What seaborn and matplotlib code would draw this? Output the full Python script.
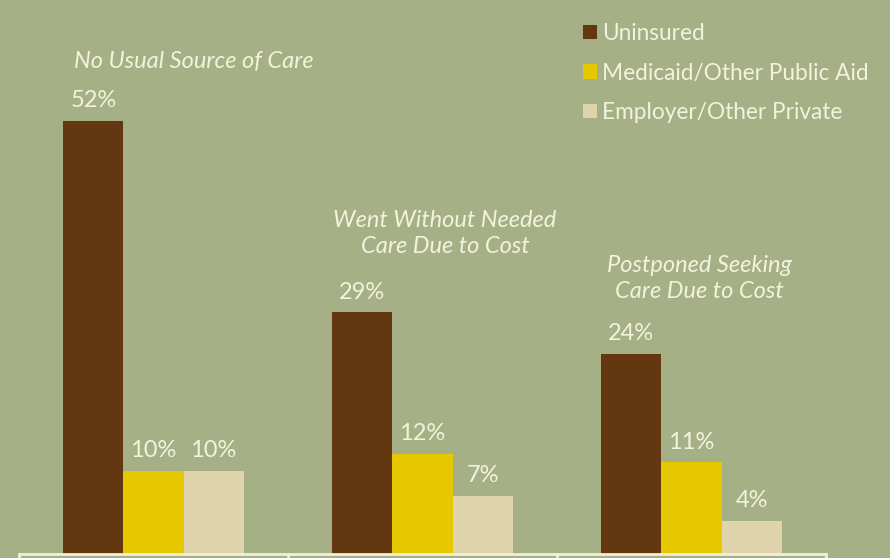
import pandas as pd
import seaborn as sns
import matplotlib.pyplot as plt

# data
measures = ["No Usual Source of Care",
            "Went Without Needed\nCare Due to Cost",
            "Postponed Seeking\nCare Due to Cost"]
coverage = ["Uninsured", "Medicaid/Other Public Aid", "Employer/Other Private"]
uninsured = [52, 29, 24]
medicaid = [10, 12, 11]
private = [10, 7, 4]

colors = ["#633810", "#E6C800", "#DFD4AC"]
bg = "#A5B086"
txt = "#F4F2DC"

rows = []
for name, vals in zip(coverage, [uninsured, medicaid, private]):
    for m, v in zip(measures, vals):
        rows.append({"measure": m, "coverage": name, "pct": v})
df = pd.DataFrame(rows)

sns.set_style("white")
plt.rcParams["font.family"] = ["Lato", "DejaVu Sans"]

fig = plt.figure(figsize=(8.9, 5.58), dpi=100, facecolor=bg)
ax = fig.add_axes([19 / 890, 4 / 558, 807 / 890, 554 / 558])
ax.set_facecolor(bg)

sns.barplot(data=df, x="measure", y="pct", hue="coverage", palette=colors,
            width=0.67, saturation=1, gap=0, linewidth=0, ax=ax)

ax.set_xlim(-0.5, 2.5)
ax.set_ylim(0, 66.5)
for c in ax.containers:
    ax.bar_label(c, fmt="%g%%", padding=7, fontsize=17, color=txt)

# category titles above each group
title_pos = [(0.15, 57.8), (1.084, 35.6), (2.028, 30.2)]
for m, (tx, ty) in zip(measures, title_pos):
    ax.text(tx, ty, m, ha="center", va="bottom", fontsize=17, style="italic",
            color=txt, linespacing=1.32)

ax.set_xlabel("")
ax.set_ylabel("")
ax.set_xticks([])
ax.set_yticks([])
for s in ["top", "left", "right"]:
    ax.spines[s].set_visible(False)
ax.spines["bottom"].set_color("#F0F0D2")
ax.spines["bottom"].set_linewidth(2)
for xv in [-0.5, 0.5, 1.5, 2.5]:
    ax.axvline(xv, ymin=-0.05, ymax=0, clip_on=False, color="#F0F0D2", lw=2)

leg = ax.legend(loc="upper left", bbox_to_anchor=((574 - 19) / 807, 1 - 14 / 554),
                frameon=False, fontsize=16.3, handlelength=0.6, handleheight=0.6,
                handletextpad=0.25, labelspacing=0.82, borderaxespad=0)
for t in leg.get_texts():
    t.set_color(txt)

fig.savefig("out.png", dpi=100, facecolor=bg)
